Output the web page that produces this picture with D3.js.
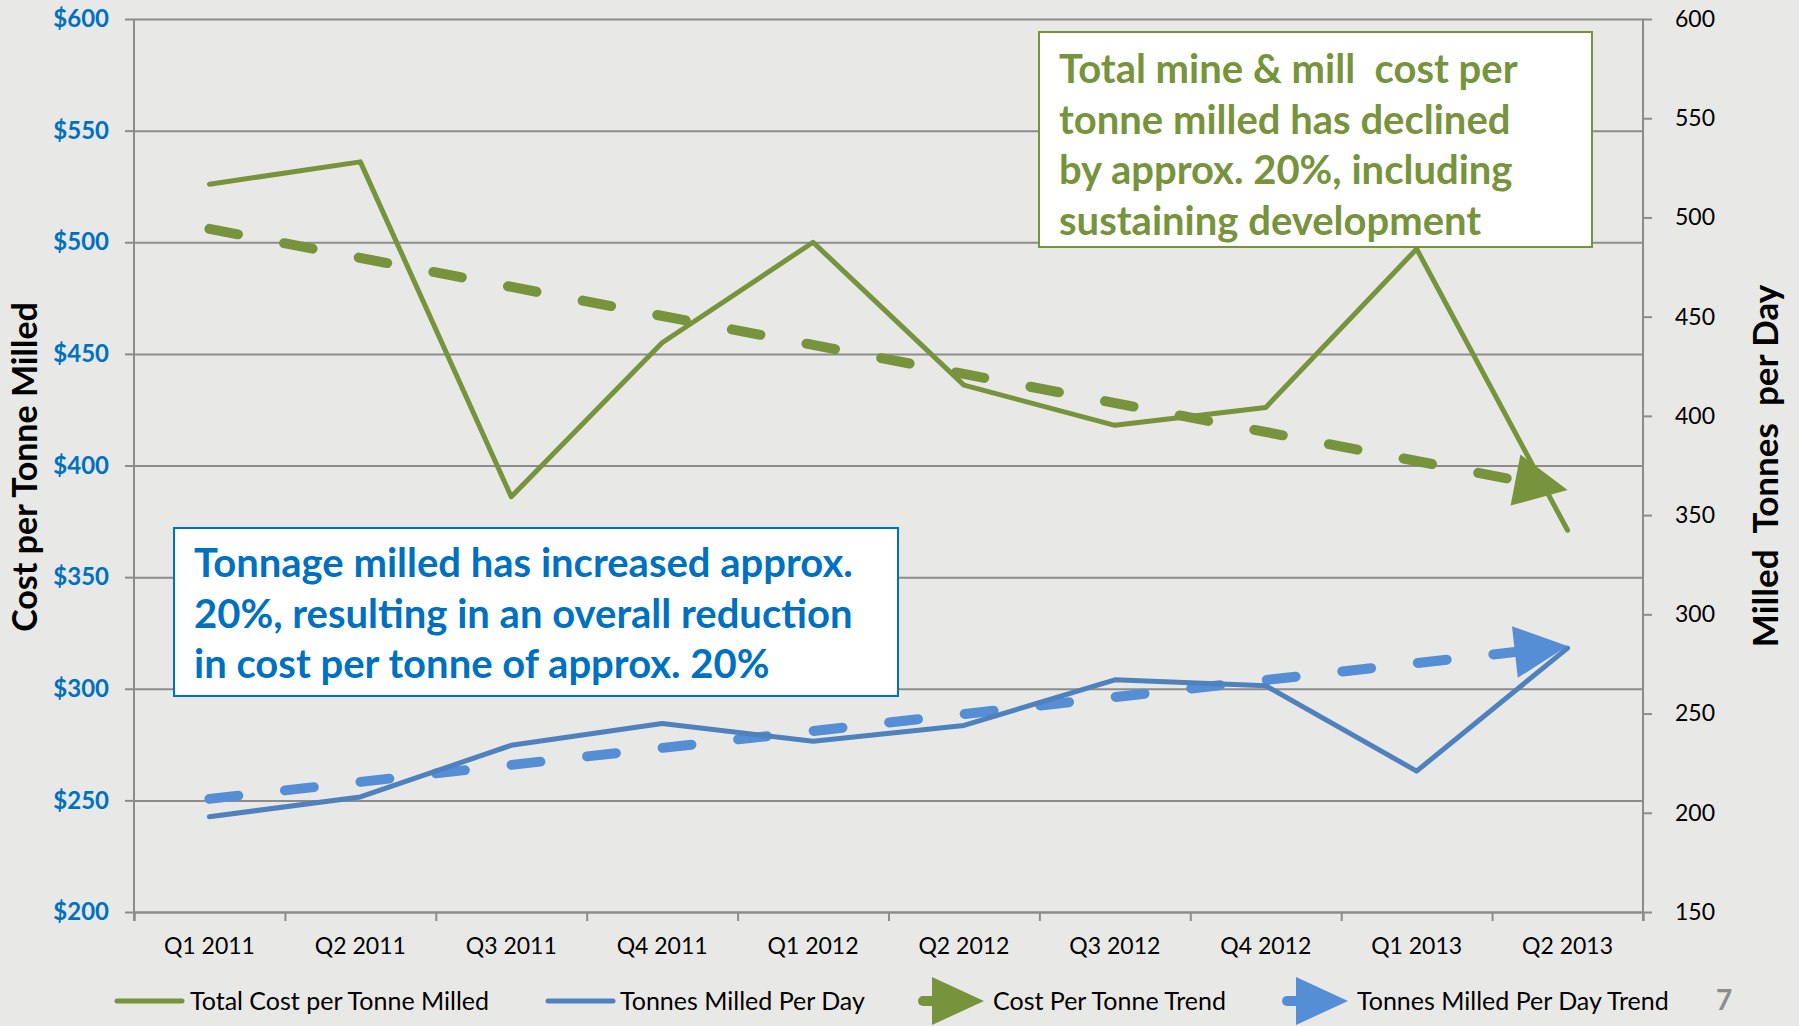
<!DOCTYPE html>
<html>
<head>
    <meta charset="utf-8">
    <title>Cost per Tonne Milled</title>
    <script src="https://unpkg.com/d3@7.8.2/dist/d3.min.js"></script>
    <style>
        body { margin: 0; background: #e8e8e6; }
        text { font-family: Lato, "Open Sans", sans-serif; }
    </style>
</head>
<body>
    <div id="chart"></div>

    <script>
        // quarters on the x axis
        const quarters = ["Q1 2011", "Q2 2011", "Q3 2011", "Q4 2011", "Q1 2012",
            "Q2 2012", "Q3 2012", "Q4 2012", "Q1 2013", "Q2 2013"];

        // left axis series ($ per tonne)
        const totalCost = [526, 536, 386, 455, 500, 436, 418, 426, 497, 371];
        // right axis series (tonnes per day)
        const tonnesPerDay = [198, 208, 234, 245, 236, 244, 267, 264, 221, 283];

        // hand drawn trend arrows: value at first and last quarter
        const costTrend = [506, 389];
        const tonnesTrend = [207, 284];

        const costTicks = [200, 250, 300, 350, 400, 450, 500, 550, 600];
        const tonnesTicks = [150, 200, 250, 300, 350, 400, 450, 500, 550, 600];

        const legendLabels = ["Total Cost per Tonne Milled", "Tonnes Milled Per Day",
            "Cost Per Tonne Trend", "Tonnes Milled Per Day Trend"];

        const greenNote = ["Total mine & mill  cost per", "tonne milled has declined",
            "by approx. 20%, including", "sustaining development"];
        const blueNote = ["Tonnage milled has increased approx.",
            "20%, resulting in an overall reduction", "in cost per tonne of approx. 20%"];

        const W = 1799, H = 1026;
        const plotL = 134, plotR = 1643, plotT = 19, plotB = 912;

        const green = "#77933c", blue = "#4f81bd", lightBlue = "#558ed5",
            labelBlue = "#0070c0", gridGray = "#8c8c8c";

        const svg = d3.select("#chart").append("svg")
            .attr("width", W).attr("height", H);

        svg.append("rect").attr("width", W).attr("height", H).attr("fill", "#e8e8e6");

        const x = d3.scaleBand().domain(quarters).range([plotL, plotR]);
        const cx = q => x(q) + x.bandwidth() / 2;
        const yL = d3.scaleLinear().domain([200, 600]).range([plotB, plotT]);
        const yR = d3.scaleLinear().domain([150, 600]).range([plotB, plotT]);

        // gridlines
        svg.append("g")
            .attr("transform", `translate(${plotL},0)`)
            .call(d3.axisLeft(yL).tickValues(costTicks).tickSize(-(plotR - plotL)).tickFormat(""))
            .call(g => g.select(".domain").remove())
            .call(g => g.selectAll("line").attr("stroke", gridGray).attr("stroke-width", 2));

        // left axis
        svg.append("g")
            .attr("transform", `translate(${plotL},0)`)
            .call(d3.axisLeft(yL).tickValues(costTicks).tickSize(9).tickPadding(16)
                .tickFormat(d => "$" + d))
            .call(g => g.select(".domain").attr("stroke", gridGray).attr("stroke-width", 2)
                .attr("d", `M0,${plotT}V${plotB + 9}`))
            .call(g => g.selectAll("line").attr("stroke", gridGray).attr("stroke-width", 2))
            .call(g => g.selectAll("text").attr("fill", labelBlue)
                .style("font-size", "24px").style("font-weight", "bold"));

        // right axis
        svg.append("g")
            .attr("transform", `translate(${plotR},0)`)
            .call(d3.axisRight(yR).tickValues(tonnesTicks).tickSize(9).tickPadding(23))
            .call(g => g.select(".domain").attr("stroke", gridGray).attr("stroke-width", 2)
                .attr("d", `M0,${plotT}V${plotB + 9}`))
            .call(g => g.selectAll("line").attr("stroke", gridGray).attr("stroke-width", 2))
            .call(g => g.selectAll("text").attr("fill", "#000").style("font-size", "23px"));

        // bottom axis: ticks at quarter boundaries, labels centred
        svg.append("g")
            .attr("transform", `translate(0,${plotB})`)
            .call(d3.axisBottom(d3.scaleLinear().domain([0, quarters.length]).range([plotL, plotR]))
                .ticks(quarters.length).tickSize(9).tickFormat(""))
            .call(g => g.select(".domain").attr("stroke", gridGray).attr("stroke-width", 2))
            .call(g => g.selectAll("line").attr("stroke", gridGray).attr("stroke-width", 2));

        svg.append("g").selectAll("text")
            .data(quarters)
            .join("text")
            .attr("x", d => cx(d))
            .attr("y", 954)
            .attr("text-anchor", "middle")
            .style("font-size", "23px")
            .text(d => d);

        // axis titles
        svg.append("text")
            .attr("transform", `translate(37,467) rotate(-90)`)
            .attr("text-anchor", "middle")
            .style("font-size", "34px").style("font-weight", "bold")
            .text("Cost per Tonne Milled");

        svg.append("text")
            .attr("transform", `translate(1778,466) rotate(-90)`)
            .attr("text-anchor", "middle")
            .style("font-size", "35px").style("font-weight", "bold")
            .style("white-space", "pre")
            .text("Milled  Tonnes  per Day");

        // trend arrows
        function trendArrow(vals, yScale, color) {
            const x0 = cx(quarters[0]), y0 = yScale(vals[0]);
            const x1 = cx(quarters[quarters.length - 1]), y1 = yScale(vals[1]);
            const ang = Math.atan2(y1 - y0, x1 - x0);
            const len = 53, half = 26;
            const bx = x1 - len * Math.cos(ang), by = y1 - len * Math.sin(ang);
            svg.append("path")
                .attr("d", d3.line()([[x0, y0], [bx, by]]))
                .attr("fill", "none")
                .attr("stroke", color)
                .attr("stroke-width", 10)
                .attr("stroke-linecap", "round")
                .attr("stroke-dasharray", "29,47");
            const nx = -Math.sin(ang), ny = Math.cos(ang);
            svg.append("path")
                .attr("d", d3.line()([[x1, y1], [bx + nx * half, by + ny * half],
                    [bx - nx * half, by - ny * half]]) + "Z")
                .attr("fill", color);
        }

        const costLine = d3.line().x((d, i) => cx(quarters[i])).y(d => yL(d));
        const tonnesLine = d3.line().x((d, i) => cx(quarters[i])).y(d => yR(d));

        trendArrow(costTrend, yL, green);
        trendArrow(tonnesTrend, yR, lightBlue);

        svg.append("path")
            .attr("d", costLine(totalCost))
            .attr("fill", "none").attr("stroke", green)
            .attr("stroke-width", 5).attr("stroke-linecap", "round").attr("stroke-linejoin", "round");

        svg.append("path")
            .attr("d", tonnesLine(tonnesPerDay))
            .attr("fill", "none").attr("stroke", blue)
            .attr("stroke-width", 5).attr("stroke-linecap", "round").attr("stroke-linejoin", "round");

        // annotation boxes
        function noteBox(lines, bx, by, bw, bh, color, tx, ty0) {
            svg.append("rect")
                .attr("x", bx).attr("y", by).attr("width", bw).attr("height", bh)
                .attr("fill", "#fff").attr("stroke", color).attr("stroke-width", 2);
            svg.append("g").selectAll("text")
                .data(lines)
                .join("text")
                .attr("x", tx)
                .attr("y", (d, i) => ty0 + i * 50.7)
                .attr("fill", color)
                .style("font-size", "40px").style("font-weight", "bold")
                .style("white-space", "pre")
                .text(d => d);
        }

        noteBox(greenNote, 1039, 32, 553, 215, green, 1059, 83);
        noteBox(blueNote, 174, 528, 724, 168, labelBlue, 194, 577);

        // legend
        const ly = 1001;
        const lg = svg.append("g");
        lg.append("line").attr("x1", 117).attr("x2", 182).attr("y1", ly).attr("y2", ly)
            .attr("stroke", green).attr("stroke-width", 5).attr("stroke-linecap", "round");
        lg.append("line").attr("x1", 548).attr("x2", 613).attr("y1", ly).attr("y2", ly)
            .attr("stroke", blue).attr("stroke-width", 5).attr("stroke-linecap", "round");

        function legendArrow(x0, color) {
            lg.append("line").attr("x1", x0 + 5).attr("x2", x0 + 16).attr("y1", ly).attr("y2", ly)
                .attr("stroke", color).attr("stroke-width", 10).attr("stroke-linecap", "round");
            lg.append("path")
                .attr("d", `M${x0 + 14},${ly - 24}L${x0 + 66},${ly}L${x0 + 14},${ly + 24}Z`)
                .attr("fill", color);
        }
        legendArrow(918, green);
        legendArrow(1282, lightBlue);

        const legendX = [190, 620, 993, 1357];
        lg.selectAll("text.leg")
            .data(legendLabels)
            .join("text")
            .attr("class", "leg")
            .attr("x", (d, i) => legendX[i])
            .attr("y", ly + 9)
            .style("font-size", "25px")
            .text(d => d);

        svg.append("text")
            .attr("x", 1724).attr("y", 1010)
            .attr("text-anchor", "middle")
            .attr("fill", "#8c8c8c")
            .style("font-size", "28px").style("font-weight", "bold")
            .text("7");
    </script>
</body>
</html>
